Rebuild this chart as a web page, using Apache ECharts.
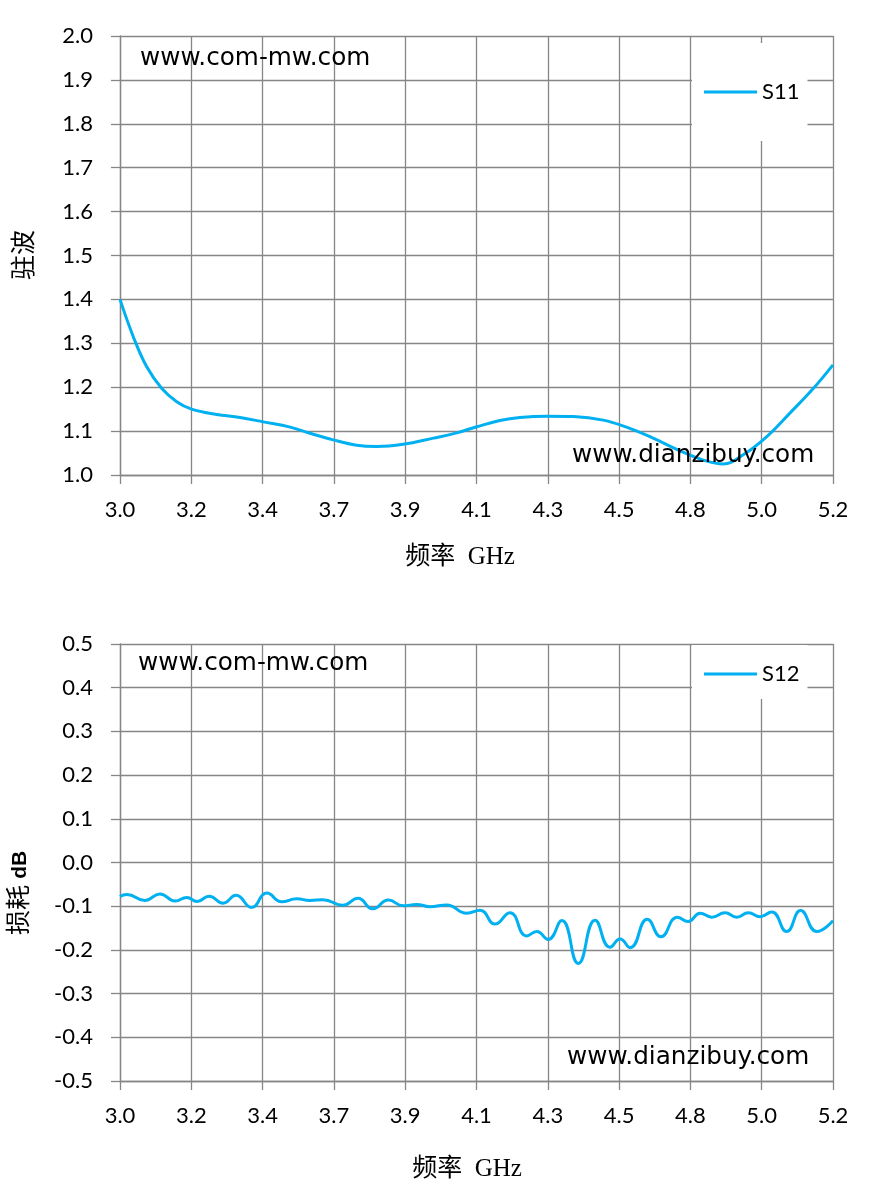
<!DOCTYPE html>
<html>
<head>
<meta charset="utf-8">
<script src="https://cdn.jsdelivr.net/npm/echarts@6/dist/echarts.min.js"></script>
<style>
html,body{margin:0;padding:0;background:#fff;}
#c{width:869px;height:1193px;}
</style>
</head>
<body>
<div id="c"></div>
<script>
// ---- Data ----
const s11Freq = [3.000,3.041,3.082,3.129,3.175,3.221,3.298,3.370,3.442,3.525,3.586,3.658,3.730,3.792,3.874,3.967,4.039,4.101,4.172,4.234,4.317,4.399,4.491,4.563,4.645,4.728,4.800,4.861,4.923,4.995,5.067,5.139,5.200];
const s11Vswr = [1.400,1.315,1.247,1.197,1.167,1.150,1.138,1.131,1.121,1.109,1.095,1.080,1.068,1.065,1.070,1.084,1.096,1.110,1.124,1.131,1.134,1.133,1.125,1.109,1.084,1.055,1.034,1.025,1.046,1.087,1.141,1.197,1.251];

const s12Freq = [3.000,3.021,3.077,3.123,3.170,3.206,3.238,3.275,3.318,3.358,3.406,3.453,3.499,3.545,3.586,3.626,3.688,3.734,3.780,3.828,3.874,3.915,3.956,4.008,4.070,4.111,4.157,4.203,4.255,4.286,4.321,4.363,4.414,4.466,4.512,4.543,4.574,4.627,4.669,4.720,4.753,4.790,4.826,4.867,4.903,4.939,4.975,5.011,5.057,5.100,5.150,5.200];
const s12Loss = [-0.078,-0.073,-0.087,-0.072,-0.088,-0.080,-0.089,-0.077,-0.093,-0.075,-0.103,-0.070,-0.090,-0.083,-0.087,-0.085,-0.098,-0.082,-0.106,-0.086,-0.099,-0.096,-0.101,-0.097,-0.116,-0.109,-0.141,-0.115,-0.168,-0.158,-0.176,-0.133,-0.231,-0.132,-0.194,-0.175,-0.195,-0.130,-0.170,-0.125,-0.135,-0.116,-0.125,-0.115,-0.125,-0.115,-0.124,-0.113,-0.158,-0.110,-0.158,-0.133];

const xMin = 3.0, xMax = 5.2, xStep = 0.22;
const s11Range = [1.0, 2.0];
const s12Range = [-0.5, 0.5];
const yStep = 0.1;

const seriesNames = ['S11', 'S12'];
const xTitle = '频率  GHz';
const yTitle1 = '驻波';
const yTitle2a = '损耗 ';
const yTitle2b = 'dB';
const watermark1 = 'www.com-mw.com';
const watermark2 = 'www.dianzibuy.com';

// ---- Chart ----
const GRID = '#868686';
const BLUE = '#00B0F0';
const LABEL_FONT = 'Lato, "Open Sans", sans-serif';
const TITLE_FONT = '"Liberation Serif", "Noto Sans CJK SC", serif';
const WM_FONT = '"DejaVu Sans", sans-serif';

function fmt(v){ if (Math.abs(v) < 1e-9) return '0.0'; return Number(v).toFixed(1); }
function zip(a,b){ return a.map((x,i)=>[x,b[i]]); }

const lineStyle = {color: GRID, width: 1.3};
function xAxis(gi){
  return {
    gridIndex: gi, type: 'value', min: xMin, max: xMax, interval: xStep,
    axisLine: {show: true, onZero: false, lineStyle: lineStyle},
    axisTick: {show: true, inside: false, length: 9, lineStyle: lineStyle},
    splitLine: {show: true, lineStyle: lineStyle},
    axisLabel: {color: '#000', fontFamily: LABEL_FONT, fontSize: 22, margin: 24, formatter: fmt,
                showMinLabel: true, showMaxLabel: true}
  };
}
function yAxis(gi, r){
  return {
    gridIndex: gi, type: 'value', min: r[0], max: r[1], interval: yStep,
    axisLine: {show: true, onZero: false, lineStyle: lineStyle},
    axisTick: {show: true, inside: false, length: 9, lineStyle: lineStyle},
    splitLine: {show: true, lineStyle: lineStyle},
    axisLabel: {color: '#000', fontFamily: LABEL_FONT, fontSize: 22, margin: 27, formatter: fmt}
  };
}
function legend(name, top, padding){
  return {
    data: [{name: name, icon: 'rect'}],
    left: 692, top: top, padding: padding,
    backgroundColor: '#fff', borderWidth: 0,
    itemWidth: 53, itemHeight: 3, itemGap: 0,
    textStyle: {color: '#000', fontFamily: LABEL_FONT, fontSize: 22, padding: [0,0,0,0]},
    z: 10
  };
}
function wm(text, x, y){
  return {type: 'text', x: x, y: y, z: 100, silent: true,
    style: {text: text, fill: '#000', font: '24.7px ' + WM_FONT, textAlign: 'left', textVerticalAlign: 'middle'}};
}

const chart = echarts.init(document.getElementById('c'), null, {renderer: 'canvas'});
chart.setOption({
  animation: false,
  backgroundColor: '#fff',
  grid: [
    {left: 120, top: 36, width: 713, height: 439},
    {left: 120, top: 644, width: 713, height: 437}
  ],
  xAxis: [xAxis(0), xAxis(1)],
  yAxis: [yAxis(0, s11Range), yAxis(1, s12Range)],
  legend: [
    legend(seriesNames[0], 43, [38, 8, 38, 12]),
    legend(seriesNames[1], 645, [18, 8, 14, 12])
  ],
  series: [
    {name: seriesNames[0], type: 'line', xAxisIndex: 0, yAxisIndex: 0, data: zip(s11Freq, s11Vswr),
     smooth: 0.4, symbol: 'none', lineStyle: {color: BLUE, width: 3}, itemStyle: {color: BLUE}},
    {name: seriesNames[1], type: 'line', xAxisIndex: 1, yAxisIndex: 1, data: zip(s12Freq, s12Loss),
     smooth: 0.5, symbol: 'none', lineStyle: {color: BLUE, width: 3}, itemStyle: {color: BLUE}}
  ],
  graphic: [
    wm(watermark1, 140, 59),
    wm(watermark2, 572, 456),
    wm(watermark1, 138, 664),
    wm(watermark2, 567, 1058),
    {type: 'text', x: 460, y: 557, z: 100, silent: true,
     style: {text: xTitle, fill: '#000', font: '25px ' + TITLE_FONT, textAlign: 'center', textVerticalAlign: 'middle'}},
    {type: 'text', x: 467, y: 1169, z: 100, silent: true,
     style: {text: xTitle, fill: '#000', font: '25px ' + TITLE_FONT, textAlign: 'center', textVerticalAlign: 'middle'}},
    {type: 'text', x: 25, y: 255, rotation: Math.PI/2, z: 100, silent: true,
     style: {text: yTitle1, fill: '#000', font: '25px ' + TITLE_FONT, textAlign: 'center', textVerticalAlign: 'middle'}},
    {type: 'text', x: 20, y: 893, rotation: Math.PI/2, z: 100, silent: true,
     style: {text: '{a|' + yTitle2a + '}{b|' + yTitle2b + '}', textAlign: 'center', textVerticalAlign: 'middle',
       rich: {
         a: {fill: '#000', fontFamily: TITLE_FONT, fontSize: 25},
         b: {fill: '#000', fontFamily: '"Liberation Sans", sans-serif', fontWeight: 'bold', fontSize: 21}
       }}}
  ]
});
</script>
</body>
</html>
